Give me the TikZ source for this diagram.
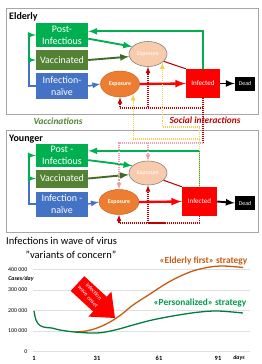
\documentclass[tikz,border=0pt]{standalone}
\usepackage{fontspec}
\setmainfont{Carlito}
\usetikzlibrary{shapes.geometric}

\definecolor{postgreen}{HTML}{00B050}
\definecolor{vacgreen}{HTML}{548235}
\definecolor{naiblue}{HTML}{4472C4}
\definecolor{exporange}{HTML}{ED7D31}
\definecolor{expale}{HTML}{F8CBAD}
\definecolor{darkred}{HTML}{C00000}
\definecolor{dotyellow}{HTML}{F5D050}
\definecolor{dotpink}{HTML}{E6A0AE}
\definecolor{panelgray}{HTML}{A6A6A6}
\definecolor{firstorange}{HTML}{C55A11}
\definecolor{persgreen}{HTML}{00994D}

\tikzset{
    panel/.style={draw=panelgray, line width=0.8pt},
    grouptitle/.style={anchor=west, inner sep=0pt, font=\fontsize{8.5}{10}\selectfont\bfseries},
    box/.style={text=white, align=center, inner sep=0pt, minimum width=1.56cm,
        font=\fontsize{8.5}{10}\selectfont},
    expo/.style={ellipse, fill=exporange, draw=exporange!80!black, line width=0.4pt, text=white,
        inner sep=0pt, minimum width=1.17cm, minimum height=0.78cm, font=\fontsize{5}{6}\selectfont\bfseries},
    pexpo/.style={ellipse, fill=expale, draw=gray, line width=0.5pt, text=white,
        inner sep=0pt, minimum width=1.14cm, minimum height=0.75cm, font=\fontsize{5}{6}\selectfont},
    infbox/.style={fill=red, text=white, inner sep=0pt, minimum width=1.02cm, minimum height=0.87cm,
        font=\fontsize{6}{7}\selectfont},
    deadbox/.style={fill=black, text=white, inner sep=0pt, minimum width=0.6cm, minimum height=0.42cm,
        font=\fontsize{5}{6}\selectfont},
    rdot/.style={darkred, line width=0.9pt, dash pattern=on 0.8pt off 0.9pt},
    pdot/.style={dotpink, line width=0.9pt, dash pattern=on 0.8pt off 0.9pt},
    ydot/.style={dotyellow, line width=0.9pt, dash pattern=on 0.8pt off 0.9pt},
    headline/.style={font=\fontsize{8}{10}\selectfont\bfseries\itshape, inner sep=0pt},
    ylab/.style={anchor=east, inner sep=0pt, font=\fontsize{5}{6}\selectfont},
    xlab/.style={inner sep=0pt, font=\fontsize{5.5}{6}\selectfont\bfseries},
    strat/.style={inner sep=0pt, font=\fontsize{8}{9}\selectfont\bfseries},
}

\begin{document}
\begin{tikzpicture}[x=0.03cm, y=-0.03cm, >=latex]
    \def\w{1.6pt}
    \def\yz{351.5}
    \def\ys{20.5}
    \useasboundingbox (0,0) rectangle (262,364);

    \draw[panel] (6,8) rectangle (258,114);
    \node[grouptitle] (eldT) at (9,16.5) {Elderly};
    \node[box, fill=postgreen, minimum height=0.72cm] (postE) at (62,35) {Post-\\Infectious};
    \node[box, fill=vacgreen, minimum height=0.6cm] (vacE) at (62,60) {Vaccinated};
    \node[box, fill=naiblue, minimum height=0.78cm] (naiE) at (62,86) {Infection-\\naïve};
    \node[expo] (exE) at (120,84) {Exposure};
    \node[pexpo] (pexE) at (148,54) {Exposure};
    \node[infbox] (infE) at (203,83.5) {Infected};
    \node[deadbox] (deadE) at (245,83.5) {Dead};
    \coordinate (brE) at (29,60);
    \coordinate (rE) at (0,108);

    \draw[naiblue, line width=1.3pt] (naiE.west) -| (brE);
    \draw[->, postgreen, line width=1.3pt] (brE) |- (postE.west);
    \draw[->, postgreen, line width=1.3pt] (brE) -- (vacE.west);
    \draw[->, postgreen, line width=\w] (infE.north) |- (postE.8);
    \draw[->, postgreen, line width=\w] (postE.-8) -- (pexE.155);
    \draw[->, vacgreen!80!black, line width=\w] (vacE.east) -- (pexE.188);
    \draw[->, naiblue, line width=1.3pt] (naiE.east) -- (exE.west);
    \draw[darkred, line width=0.9pt] (pexE.-25) -- (infE.north west);
    \draw[->, red, line width=2pt] (exE.east) -- (infE.west);
    \draw[->, black, line width=\w] (infE.east) -- (deadE.west);

    \draw[panel] (6,130) rectangle (258,232);
    \node[grouptitle] (yngT) at (9,139) {Younger};
    \node[box, fill=postgreen, minimum height=0.69cm] (postY) at (62,155.5) {Post -\\Infectious};
    \node[box, fill=vacgreen, minimum height=0.54cm] (vacY) at (62,178.5) {Vaccinated};
    \node[box, fill=naiblue, minimum height=0.75cm] (naiY) at (62,204) {Infection -\\naïve};
    \node[expo, minimum width=1.2cm, minimum height=0.75cm] (exY) at (119,202) {Exposure};
    \node[pexpo, minimum height=0.72cm] (pexY) at (148,173) {Exposure};
    \node[infbox, minimum width=1.05cm] (infY) at (199.5,201.5) {Infected};
    \node[deadbox] (deadY) at (245,203) {Dead};
    \coordinate (brY) at (29,178.5);
    \coordinate (rY) at (0,223);

    \draw[naiblue, line width=1.3pt] (naiY.west) -| (brY);
    \draw[->, postgreen, line width=1.3pt] (brY) |- (postY.west);
    \draw[->, postgreen, line width=1.3pt] (brY) -- (vacY.west);
    \draw[->, postgreen, line width=\w] (infY.north) |- (postY.10);
    \draw[->, postgreen, line width=\w] (postY.-10) -- (pexY.155);
    \draw[->, vacgreen!80!black, line width=\w] (vacY.east) -- (pexY.185);
    \draw[->, naiblue, line width=1.3pt] (naiY.east) -- (exY.west);
    \draw[darkred, line width=0.9pt] (pexY.-25) -- (infY.north west);
    \draw[->, red, line width=2pt] (exY.east) -- (infY.west);
    \draw[->, black, line width=\w] (infY.east) -- (deadY.west);

    \coordinate (yA) at (0,139);
    \coordinate (yB) at (0,127);
    \coordinate (pA) at (0,143);
    \draw[->, rdot] (infE.south) -- (infE.south |- rE) -| (exE.south);
    \draw[->, rdot] (infE.south |- rE) -| (pexE.south);
    \draw[rdot] (infE.south) -- (infE.south |- pA);
    \draw[->, pdot] (infE.south |- pA) -| (exY.north);
    \draw[->, pdot] (pexY.north |- pA) -- (pexY.north);
    \draw[->, ydot] (infY.north) -- (infY.north |- yA) -| (exE.-37);
    \draw[->, ydot] (infY.north |- yA) -- (infY.north |- yB) -| (pexE.-31);
    \draw[->, rdot] (infY.south) -- (infY.south |- rY) -| (exY.south);
    \draw[->, rdot] (infY.south |- rY) -| (pexY.south);

    \node[headline, text=vacgreen] (vacL) at (58,121) {Vaccinations};
    \node[headline, text=darkred] (socL) at (205,120) {Social interactions};

    \node[anchor=west, inner sep=0pt, font=\fontsize{9}{10}\selectfont] (chartT) at (6,241) {Infections in wave of virus};
    \node[inner sep=0pt, font=\fontsize{9}{10}\selectfont] (chartS) at (71,255) {"variants of concern"};

    \foreach \v/\t in {0/0, 1/100 000, 2/200 000, 3/300 000, 4/400 000} {
        \draw[gray!25, line width=0.4pt] (33,{\yz-\v*\ys}) -- (250,{\yz-\v*\ys});
        \node[ylab] (yl\v) at (27.5,{\yz-\v*\ys}) {\t};
    }
    \node[inner sep=0pt, font=\fontsize{5}{6}\selectfont\bfseries\itshape] (casesL) at (21,279) {Cases/day};
    \foreach \n/\x in {1/34, 31/97, 61/159, 91/218}
        \node[xlab] (xl\n) at (\x,358.5) {\n};
    \node[inner sep=0pt, font=\fontsize{5}{6}\selectfont\bfseries\itshape] (daysL) at (239,358) {days};

    \draw[firstorange, line width=1.1pt] plot[smooth, tension=0.6] coordinates {(75,332) (86,331) (97,328) (110,322) (122,314) (133,305) (150,294) (167,283) (185,274) (200,269) (220,266) (243,267.5)};
    \draw[persgreen!80!black, line width=1.1pt] plot[smooth, tension=0.6] coordinates {(34,311) (36,320) (40,325.5) (46,327.5) (52,328) (60,330) (75,332) (97,333) (115,330) (133,325) (150,320.5) (167,317) (185,314) (200,312) (218,311) (243,313)};

    \fill[red] (84.3,276.2) -- (106.7,296.7) -- (111.4,291.6) -- (115,318) -- (88.4,316.6) -- (93.1,311.5) -- (70.7,290.9) -- cycle;
    \node[text=white, align=center, inner sep=0pt, rotate=-48, font=\fontsize{5}{6.5}\selectfont] (waveT) at (91,294) {infection\\wave onset};

    \node[strat, text=firstorange] (firstL) at (203.5,261) {«Elderly first» strategy};
    \node[strat, text=persgreen] (persL) at (200,303) {«Personalized» strategy};
\end{tikzpicture}
\end{document}
